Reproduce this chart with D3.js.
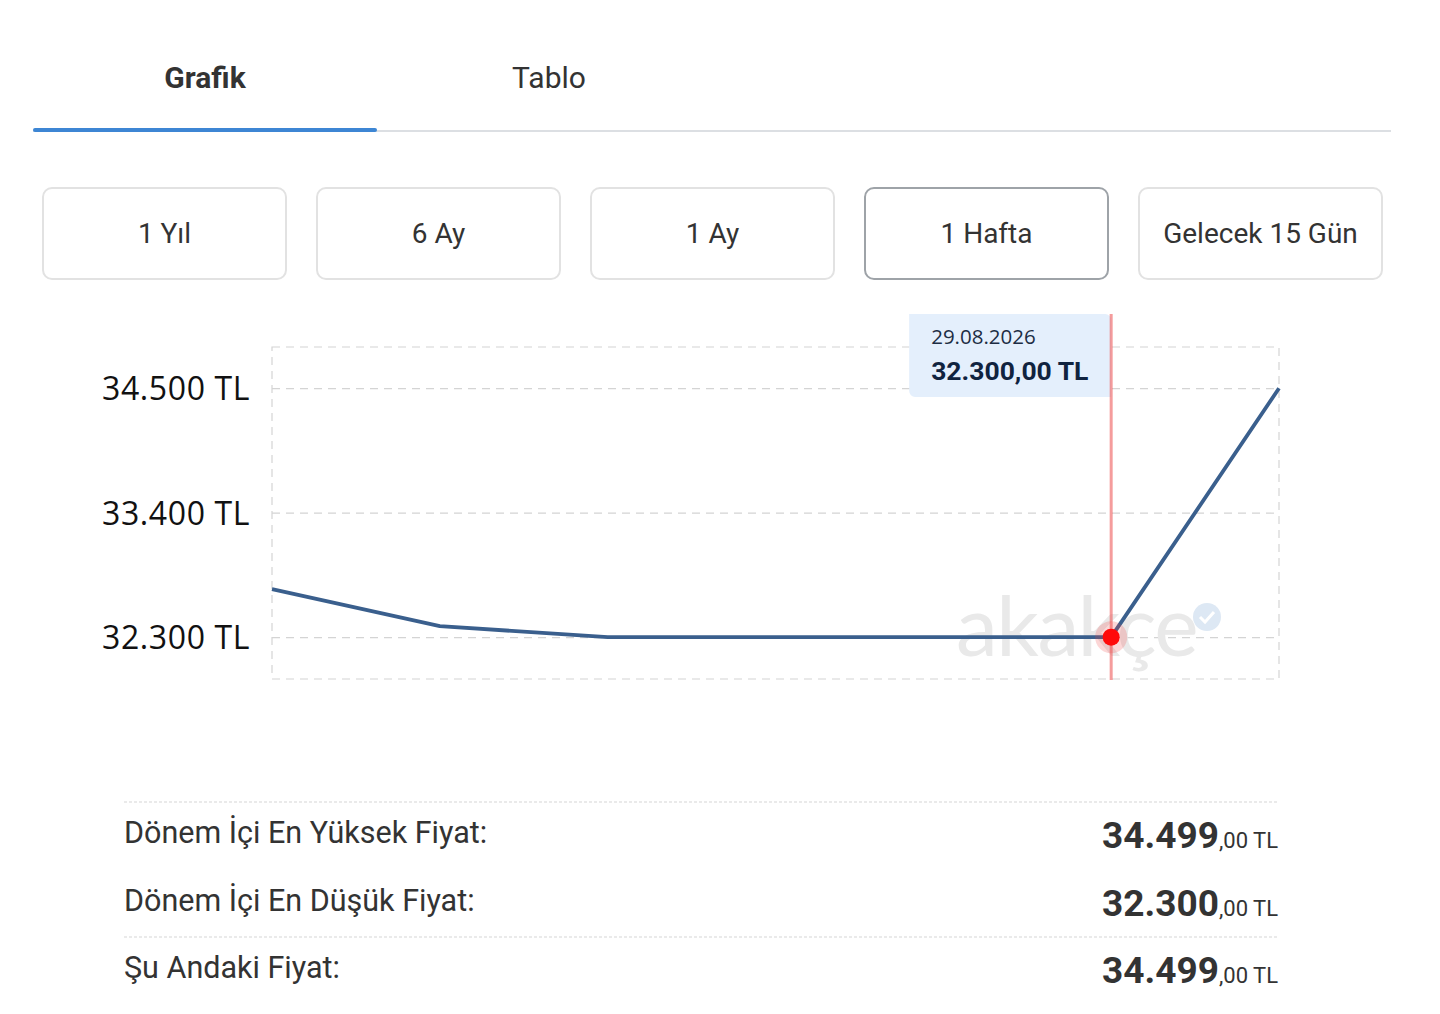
<!DOCTYPE html>
<html><head><meta charset="utf-8">
<script src="https://cdn.jsdelivr.net/npm/d3@7"></script>
<style>html,body{margin:0;padding:0;background:#fff;}svg{display:block;}</style>
</head><body>
<svg id="c" width="1440" height="1014"></svg>
<script>
const tabs = ["Grafik", "Tablo"];
const periods = ["1 Yıl", "6 Ay", "1 Ay", "1 Hafta", "Gelecek 15 Gün"];
const activePeriod = "1 Hafta";
const dates = ["24.08.2026","25.08.2026","26.08.2026","27.08.2026","28.08.2026","29.08.2026","30.08.2026"];
const prices = [32724, 32397, 32300, 32300, 32300, 32300, 34499];
const yTicks = [32300, 33400, 34500];
const yTickLabels = ["32.300 TL", "33.400 TL", "34.500 TL"];
const hoverIndex = 5;
const hoverValueLabel = "32.300,00 TL";
const summaryLabels = ["Dönem İçi En Yüksek Fiyat:", "Dönem İçi En Düşük Fiyat:", "Şu Andaki Fiyat:"];
const summaryInts = ["34.499", "32.300", "34.499"];
const summaryDecs = [",00 TL", ",00 TL", ",00 TL"];

const svg = d3.select("#c");
const RB = "Roboto, 'Noto Sans', sans-serif";
const OS = "'Open Sans', 'Noto Sans', sans-serif";

// Tabs
const tabX = d3.scaleBand().domain(tabs).range([33, 721]);
svg.selectAll("text.tab").data(tabs).join("text")
  .attr("x", d => tabX(d) + tabX.bandwidth()/2).attr("y", 88)
  .attr("text-anchor", "middle").attr("font-family", RB)
  .attr("font-size", 30).attr("font-weight", (d,i) => i === 0 ? 700 : 400)
  .attr("fill", "#333").text(d => d);
svg.append("rect").attr("x", 33).attr("y", 130).attr("width", 1358).attr("height", 2).attr("fill", "#dcdfe3");
svg.append("rect").attr("x", 33).attr("y", 128).attr("width", 344).attr("height", 4).attr("rx", 2).attr("fill", "#3d86d4");

// Period buttons
const bx = d3.scaleBand().domain(periods).range([43, 1382]).paddingInner(31/274);
const bg = svg.selectAll("g.btn").data(periods).join("g").attr("class","btn");
bg.append("rect").attr("x", d => bx(d)).attr("y", 188).attr("width", bx.bandwidth()).attr("height", 91)
  .attr("rx", 9).attr("fill", "#fff")
  .attr("stroke", d => d === activePeriod ? "#9ea3a8" : "#e2e2e2").attr("stroke-width", 2);
bg.append("text").attr("x", d => bx(d) + bx.bandwidth()/2).attr("y", 243)
  .attr("text-anchor", "middle").attr("font-family", RB).attr("font-size", 28)
  .attr("fill", "#333").text(d => d);

// Chart
const x0 = 272, x1 = 1279, yTop = 347, yBot = 679;
const x = d3.scalePoint().domain(dates).range([x0, x1]);
const y = d3.scaleLinear().domain([31930, 34864]).range([yBot, yTop]);

const dash = "8,6";
svg.append("rect").attr("x", x0).attr("y", yTop).attr("width", x1-x0).attr("height", yBot-yTop)
  .attr("fill", "none").attr("stroke", "#d4d4d4").attr("stroke-width", 1.2).attr("stroke-dasharray", dash);

const yAxis = d3.axisLeft(y).tickValues(yTicks).tickSize(-(x1-x0)).tickPadding(22)
  .tickFormat((d,i) => yTickLabels[i]);
const ga = svg.append("g").attr("transform", `translate(${x0},0)`).call(yAxis);
ga.select(".domain").remove();
ga.selectAll(".tick line").attr("stroke", "#d4d4d4").attr("stroke-width", 1.2).attr("stroke-dasharray", dash);
ga.selectAll(".tick text").attr("font-family", OS).attr("font-size", 32).attr("letter-spacing", 0.6)
  .attr("fill", "#111").attr("dy", "0.36em");

// watermark
svg.append("text").attr("x", 956).attr("y", 656).attr("font-family", "Lato, 'Open Sans', sans-serif")
  .attr("font-weight", 400).attr("font-size", 84).attr("fill", "#e9e9e9").attr("letter-spacing", -1.5).text("akakçe");
svg.append("circle").attr("cx", 1207).attr("cy", 617).attr("r", 14).attr("fill", "#dde8f4");
svg.append("path").attr("d", "M1200,617 l5,5 l9,-10").attr("fill", "none").attr("stroke", "#fff").attr("stroke-width", 3);

// line
const line = d3.line().x((d,i) => x(dates[i])).y(d => y(d));
svg.append("path").datum(prices).attr("d", line).attr("fill", "none")
  .attr("stroke", "#3a5f8d").attr("stroke-width", 3.8).attr("stroke-linejoin", "round");

// hover line + tooltip
const hx = x(dates[hoverIndex]), hy = y(prices[hoverIndex]);
svg.append("path").attr("d", `M${hx-202},314 h196 a6,6 0 0 1 6,6 v77 h-196 a6,6 0 0 1 -6,-6 z`)
  .attr("fill", "#e4effc");
svg.append("text").attr("x", hx-180).attr("y", 344).attr("font-family", OS).attr("font-size", 20.5)
  .attr("fill", "#1d2d44").text(dates[hoverIndex]);
svg.append("text").attr("x", hx-180).attr("y", 380).attr("font-family", RB).attr("font-weight", 700).attr("font-size", 26.5)
  .attr("fill", "#10233f").text(hoverValueLabel);
svg.append("line").attr("x1", hx).attr("x2", hx).attr("y1", 314).attr("y2", yBot+1)
  .attr("stroke", "rgba(238,90,90,0.6)").attr("stroke-width", 3);
svg.append("circle").attr("cx", hx).attr("cy", hy).attr("r", 16).attr("fill", "rgba(240,70,70,0.22)");
svg.append("circle").attr("cx", hx).attr("cy", hy).attr("r", 8.5).attr("fill", "#ff0a0a");

// Summary
const rowY = d3.scalePoint().domain(summaryLabels).range([843, 978]);
[802, 937].forEach(yy => svg.append("line").attr("x1", 124).attr("x2", 1279).attr("y1", yy).attr("y2", yy)
  .attr("stroke", "#d6d6d6").attr("stroke-width", 1.2).attr("stroke-dasharray", "3,2"));
const rows = svg.selectAll("g.row").data(summaryLabels).join("g").attr("class","row");
rows.append("text").attr("x", 124).attr("y", d => rowY(d)).attr("font-family", RB).attr("font-size", 30.5)
  .attr("fill", "#333").text(d => d);
const vt = rows.append("text").attr("x", 1278).attr("y", d => rowY(d) + 5).attr("text-anchor", "end")
  .attr("font-family", RB).attr("fill", "#333");
vt.append("tspan").attr("font-size", 37).attr("font-weight", 700).text((d,i) => summaryInts[i]);
vt.append("tspan").attr("font-size", 22).text((d,i) => summaryDecs[i]);
</script>
</body></html>
